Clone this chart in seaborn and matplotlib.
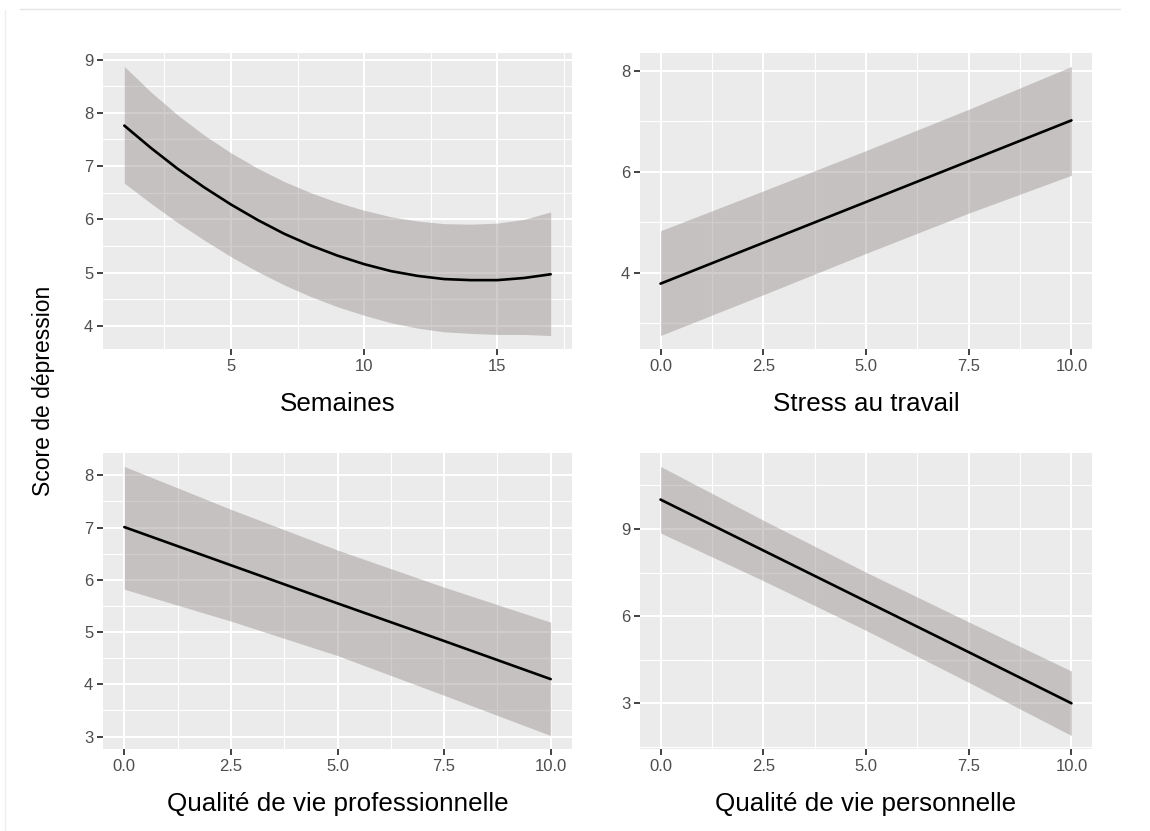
import numpy as np
import pandas as pd
import matplotlib
matplotlib.use("Agg")
import matplotlib.pyplot as plt
import seaborn as sns
from matplotlib.ticker import MultipleLocator, FormatStrFormatter
from matplotlib.lines import Line2D

# ---------------- data ----------------
semaines = list(range(1, 18))
sem_fit = [7.76, 7.34, 6.95, 6.60, 6.28, 5.99, 5.73, 5.51, 5.32, 5.16, 5.03, 4.94, 4.88, 4.86, 4.86, 4.90, 4.97]
sem_low = [6.68, 6.30, 5.94, 5.61, 5.30, 5.02, 4.77, 4.55, 4.36, 4.20, 4.06, 3.96, 3.89, 3.86, 3.84, 3.84, 3.82]
sem_high = [8.87, 8.39, 7.96, 7.58, 7.25, 6.96, 6.71, 6.50, 6.32, 6.17, 6.05, 5.97, 5.92, 5.91, 5.93, 6.00, 6.14]

x_0_10 = [0, 2.5, 5, 7.5, 10]

stress_fit = [3.78, 4.59, 5.40, 6.21, 7.02]
stress_low = [2.75, 3.56, 4.38, 5.18, 5.93]
stress_high = [4.83, 5.62, 6.42, 7.24, 8.09]

prof_fit = [7.01, 6.28, 5.55, 4.83, 4.10]
prof_low = [5.82, 5.21, 4.55, 3.79, 3.02]
prof_high = [8.17, 7.35, 6.57, 5.86, 5.19]

perso_fit = [10.01, 8.26, 6.51, 4.76, 3.00]
perso_low = [8.86, 7.22, 5.51, 3.72, 1.89]
perso_high = [11.15, 9.30, 7.51, 5.80, 4.11]

x_titles = ["Semaines", "Stress au travail",
            "Qualité de vie professionnelle", "Qualité de vie personnelle"]
y_title = "Score de dépression"

# ---------------- style ----------------
sns.set_theme(style="darkgrid")
plt.rcParams['font.family'] = ['Liberation Sans', 'DejaVu Sans']

W, H = 1150, 831
fig = plt.figure(figsize=(W / 100, H / 100), dpi=100)
fig.patch.set_facecolor("white")

def px_axes(x0, y0, x1, y1):
    return fig.add_axes([x0 / W, 1 - y1 / H, (x1 - x0) / W, (y1 - y0) / H])

panels = [
    dict(box=(103, 53, 572, 349), x=semaines, fit=sem_fit, low=sem_low, high=sem_high,
         xmaj=5, xmin=2.5, ymaj=1, ymin=0.5, xfmt='%d', title=x_titles[0]),
    dict(box=(640, 53, 1092, 349), x=x_0_10, fit=stress_fit, low=stress_low, high=stress_high,
         xmaj=2.5, xmin=1.25, ymaj=2, ymin=1, xfmt='%.1f', title=x_titles[1]),
    dict(box=(103, 453, 572, 749), x=x_0_10, fit=prof_fit, low=prof_low, high=prof_high,
         xmaj=2.5, xmin=1.25, ymaj=1, ymin=0.5, xfmt='%.1f', title=x_titles[2]),
    dict(box=(640, 453, 1092, 749), x=x_0_10, fit=perso_fit, low=perso_low, high=perso_high,
         xmaj=2.5, xmin=1.25, ymaj=3, ymin=1.5, xfmt='%.1f', title=x_titles[3]),
]

for p in panels:
    ax = px_axes(*p["box"])
    ax.set_facecolor("#EBEBEB")
    df = pd.DataFrame({"x": p["x"], "fit": p["fit"], "low": p["low"], "high": p["high"]})
    ax.fill_between(df["x"], df["low"], df["high"], color="#978f8f", alpha=0.45,
                    lw=0, zorder=2)
    sns.lineplot(data=df, x="x", y="fit", ax=ax, color="black", lw=1.9, zorder=3)

    # ggplot-like 5% expansion
    xr = df["x"].max() - df["x"].min()
    ax.set_xlim(df["x"].min() - 0.05 * xr, df["x"].max() + 0.05 * xr)
    ylo, yhi = df["low"].min(), df["high"].max()
    yr = yhi - ylo
    ax.set_ylim(ylo - 0.05 * yr, yhi + 0.05 * yr)

    ax.xaxis.set_major_locator(MultipleLocator(p["xmaj"]))
    ax.xaxis.set_minor_locator(MultipleLocator(p["xmin"]))
    ax.yaxis.set_major_locator(MultipleLocator(p["ymaj"]))
    ax.yaxis.set_minor_locator(MultipleLocator(p["ymin"]))
    ax.xaxis.set_major_formatter(FormatStrFormatter(p["xfmt"]))
    ax.yaxis.set_major_formatter(FormatStrFormatter('%d'))

    ax.set_axisbelow(True)
    ax.grid(which="major", color="white", lw=1.5)
    ax.grid(which="minor", color="white", lw=0.8)
    for s in ax.spines.values():
        s.set_visible(False)

    ax.tick_params(which="major", direction="out", length=4, width=1.3,
                   color="#333333", labelsize=12, labelcolor="#4D4D4D", pad=3,
                   bottom=True, left=True)
    ax.tick_params(which="minor", length=0)

    ax.set_ylabel("")
    ax.set_xlabel(p["title"], fontsize=18.7, color="black")
    ax.xaxis.label.set_va("baseline")
    ax.xaxis.set_label_coords(0.5, -62 / 296)

fig.text(44 / W, 1 - 391 / H, y_title, rotation=90, ha="center", va="center",
         fontsize=16.5, color="black")

# faint screenshot frame lines
fig.add_artist(Line2D([20 / W, 1120 / W], [1 - 9 / H, 1 - 9 / H], color="#e4e4e4", lw=1))
fig.add_artist(Line2D([5 / W, 5 / W], [0, 1 - 10 / H], color="#eeeeee", lw=1))

fig.savefig("out.png", dpi=100, facecolor="white")
